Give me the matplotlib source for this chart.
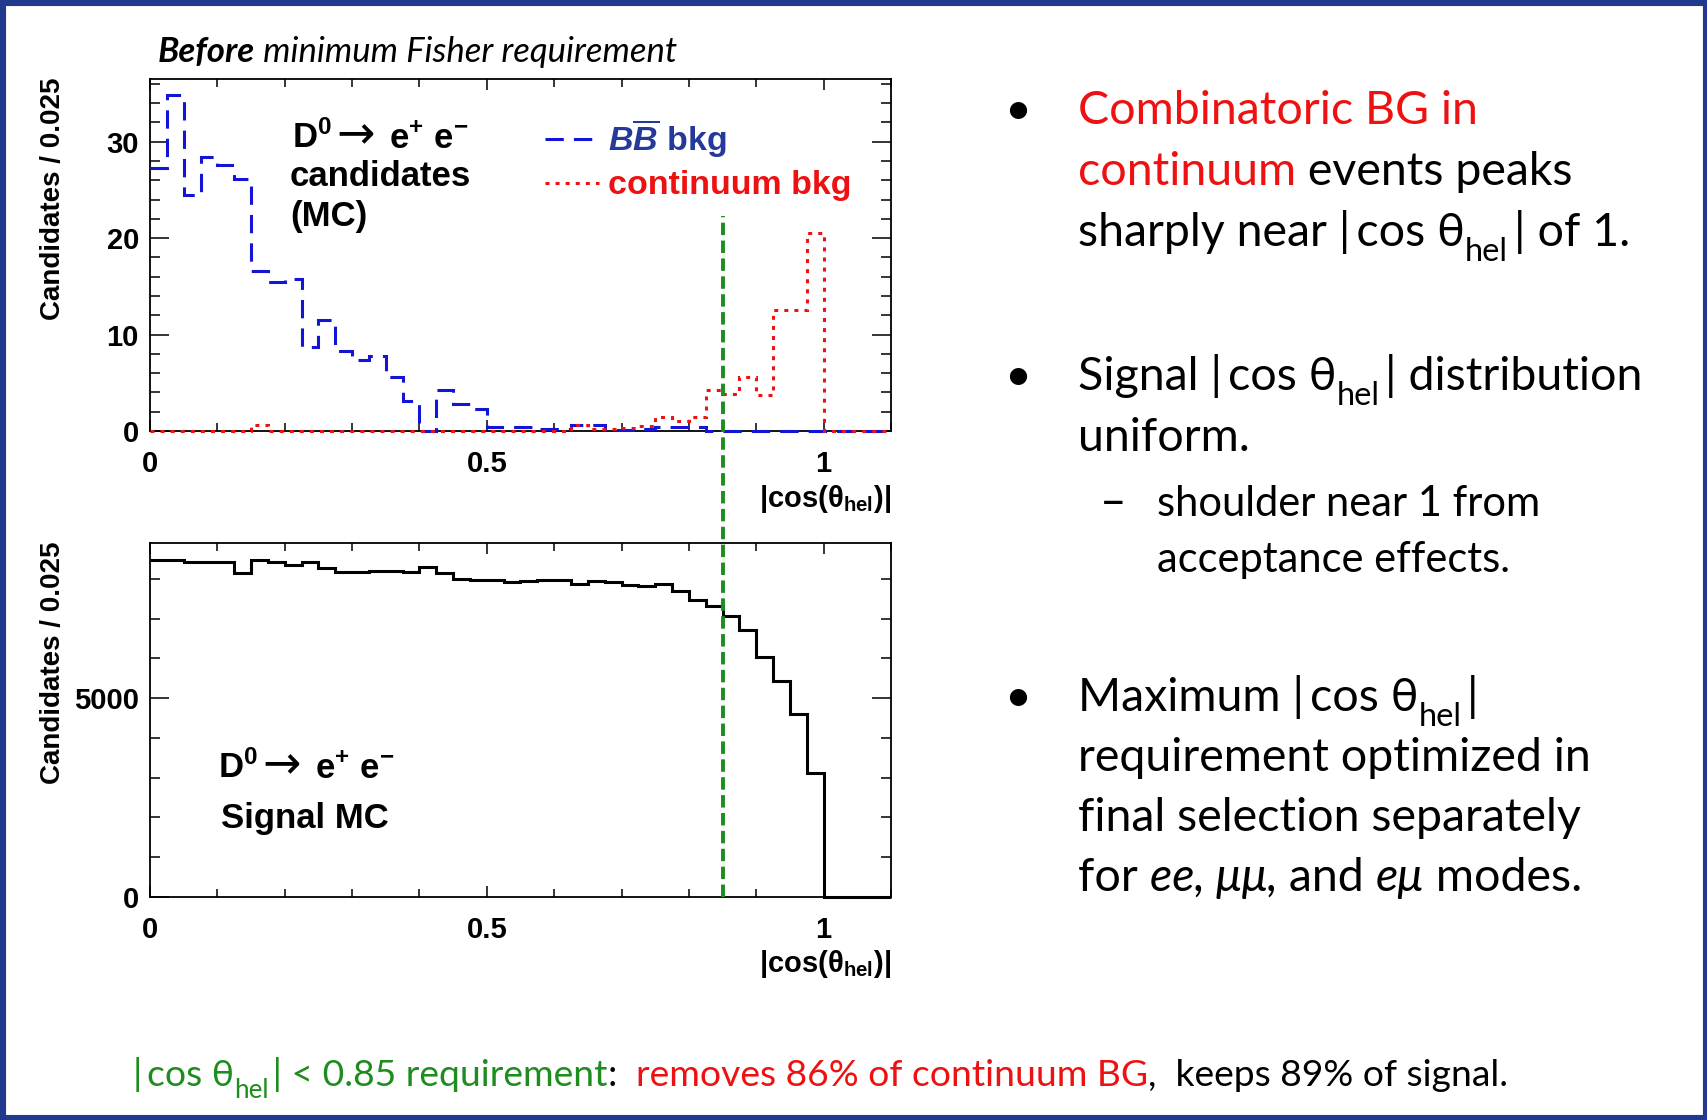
import matplotlib
matplotlib.use("Agg")
import matplotlib.pyplot as plt
from matplotlib.lines import Line2D
from matplotlib.patches import Rectangle
from matplotlib.ticker import FixedLocator, MultipleLocator
import numpy as np

plt.rcParams['mathtext.fontset'] = 'custom'
plt.rcParams['mathtext.rm'] = 'Liberation Sans:bold'
plt.rcParams['mathtext.it'] = 'Liberation Sans:bold:italic'
plt.rcParams['mathtext.bf'] = 'Liberation Sans:bold'

# |cos(theta_hel)| binning, 0.025 per bin
bin_edges = np.linspace(0, 1.1, 45)

bb_bkg = [27.3, 34.8, 24.5, 28.4, 27.6, 26.1, 16.6, 15.5, 15.8, 8.7,
          11.5, 8.3, 7.4, 7.8, 5.6, 3.1, 0.0, 4.3, 2.8, 2.3,
          0.45, 0.45, 0.45, 0.2, 0.2, 0.6, 0.6, 0.1, 0.1, 0.2,
          0.4, 0.4, 0.4, 0, 0, 0, 0, 0, 0, 0, 0, 0, 0, 0]
cont_bkg = [0, 0, 0, 0, 0, 0, 0.6, 0, 0, 0,
            0, 0, 0, 0, 0, 0, 0, 0, 0, 0,
            0, 0, 0, 0, 0, 0.6, 0.2, 0.2, 0.3, 0.5,
            1.5, 1.0, 1.5, 4.3, 3.8, 5.6, 3.7, 12.5, 12.5, 20.5,
            0, 0, 0, 0]
signal_mc = [8485, 8485, 8418, 8418, 8418, 8150, 8468, 8427, 8342, 8418,
             8284, 8183, 8183, 8200, 8200, 8170, 8301, 8150, 8006, 7973,
             7965, 7930, 7955, 7980, 7980, 7880, 7938, 7920, 7854, 7812,
             7880, 7686, 7476, 7308, 7056, 6703, 6031, 5443, 4603, 3125,
             0, 0, 0, 0]
cut_value = 0.85
cut_top = 22.3

RED = '#EE1111'
GREEN = '#1E8C1E'
BLUE = '#1414D6'
NAVY = '#25399A'
K = 'black'
PLOT_FONT = ['Liberation Sans', 'DejaVu Sans']
BODY = ['Lato', 'DejaVu Sans']
DASH = (0, (6, 3.3))
DOT = (0, (1.3, 2.0))
TS = '\u2009'

W, H = 1708, 1120
fig = plt.figure(figsize=(W / 100, H / 100), dpi=100)
rend = fig.canvas.get_renderer()


def fx(x):
    return x / W


def fy(y):
    return 1 - y / H


def width_px(s, kw):
    t = fig.text(0, 0, '|' + s + '|', **kw)
    w1 = t.get_window_extent(rend).width
    t.set_text('||')
    w2 = t.get_window_extent(rend).width
    t.remove()
    return w1 - w2


def runs(x, y, parts, size):
    for s, color, mode in parts:
        kw = dict(family=BODY, color=color, fontsize=size)
        dy = 0
        if mode == 'sub':
            kw['fontsize'] = size * 0.7
            dy = size * 0.33 * 100 / 72
        if mode in ('i', 'bi'):
            kw['style'] = 'italic'
        if mode == 'bi':
            kw['weight'] = 'bold'
        fig.text(fx(x), fy(y + dy), s, va='baseline', ha='left', **kw)
        x += width_px(s, kw)


def decay_label(x, y):
    bold = dict(family=PLOT_FONT, weight='bold', fontsize=25, va='baseline')
    fig.text(fx(x), fy(y), r'D$^{0}$', **bold)
    fig.text(fx(x + 44), fy(y), '→', family='DejaVu Sans', fontsize=33,
             va='baseline')
    fig.text(fx(x + 97), fy(y), r'e$^{+}$ e$^{-}$', **bold)


# ---- histograms
ax1 = fig.add_axes([fx(150), fy(431), 741 / W, 352 / H])
ax2 = fig.add_axes([fx(150), fy(896.7), 741 / W, 353.7 / H])

ax1.stairs(bb_bkg, bin_edges, baseline=None, color=BLUE, lw=2.2,
           linestyle=DASH, zorder=3, clip_on=False)
ax1.stairs(cont_bkg, bin_edges, baseline=None, color=RED, lw=2.2,
           linestyle=DOT, zorder=3.1, clip_on=False)
ax2.stairs(signal_mc, bin_edges, baseline=None, color=K, lw=2.2, zorder=3,
           clip_on=False)

ax1.set_ylim(0, 36.5)
ax2.set_ylim(0, 8906)
ax1.yaxis.set_major_locator(MultipleLocator(10))
ax1.yaxis.set_minor_locator(MultipleLocator(2))
ax2.yaxis.set_major_locator(MultipleLocator(5000))
ax2.yaxis.set_minor_locator(MultipleLocator(1000))

for ax in (ax1, ax2):
    ax.set_xlim(0, 1.1)
    ax.xaxis.set_major_locator(FixedLocator([0, 0.5, 1]))
    ax.xaxis.set_minor_locator(MultipleLocator(0.1))
    ax.set_xticklabels(['0', '0.5', '1'])
    ax.tick_params(which='both', direction='in', top=True, right=True, width=1.1)
    ax.tick_params(axis='y', which='major', length=14, pad=8)
    ax.tick_params(axis='y', which='minor', length=7)
    ax.tick_params(axis='x', which='major', length=8, pad=14)
    ax.tick_params(axis='x', which='minor', length=6)
    for lab in ax.get_xticklabels() + ax.get_yticklabels():
        lab.set_fontfamily(PLOT_FONT)
        lab.set_fontweight('bold')
        lab.set_fontsize(21)
    for sp in ax.spines.values():
        sp.set_linewidth(1.3)

# y labels, ROOT style, flush with the top of the frame
fig.text(fx(53), fy(77), 'Candidates / 0.025', rotation=90, ha='center', va='top',
         family=PLOT_FONT, weight='bold', fontsize=20)
fig.text(fx(53), fy(541), 'Candidates / 0.025', rotation=90, ha='center', va='top',
         family=PLOT_FONT, weight='bold', fontsize=20)
fig.text(fx(891), fy(483), r'$\mathbf{|cos(\theta_{hel})|}$', ha='right', va='top',
         fontsize=21)
fig.text(fx(891), fy(948), r'$\mathbf{|cos(\theta_{hel})|}$', ha='right', va='top',
         fontsize=21)

# annotations in the plots
decay_label(292, 148)
fig.text(fx(290), fy(186), 'candidates', family=PLOT_FONT, weight='bold',
         fontsize=25, va='baseline')
fig.text(fx(290), fy(226), '(MC)', family=PLOT_FONT, weight='bold', fontsize=25,
         va='baseline')
decay_label(218, 778)
fig.text(fx(221), fy(828), 'Signal MC', family=PLOT_FONT, weight='bold',
         fontsize=25, va='baseline')

# legend
fig.add_artist(Line2D([fx(545), fx(599)], [fy(139)] * 2, color=BLUE, lw=2.2,
                      linestyle=DASH))
fig.add_artist(Line2D([fx(545), fx(599)], [fy(183)] * 2, color=RED, lw=2.2,
                      linestyle=DOT))
fig.text(fx(608), fy(151), r'$\mathit{B}\overline{\mathit{B}}$ bkg', color=NAVY,
         family=PLOT_FONT, weight='bold', fontsize=24.5, va='baseline')
fig.text(fx(608), fy(194), 'continuum bkg', color=RED, family=PLOT_FONT,
         weight='bold', fontsize=24.5, va='baseline')

# cut line running through both panels
inv = fig.transFigure.inverted()
x_cut, y_a = inv.transform(ax1.transData.transform((cut_value, cut_top)))
_, y_b = inv.transform(ax2.transData.transform((cut_value, 0)))
fig.add_artist(Line2D([x_cut, x_cut], [y_b, y_a], color=GREEN, lw=2.8,
                      linestyle=(0, (3.2, 1.4)), zorder=4))

# ---- text
runs(158, 62, [('Before', K, 'bi'), (' minimum Fisher requirement', K, 'i')], 25)

main = 33.5
for yb in (124, 390, 711):
    fig.text(fx(1004), fy(yb), '•', family=BODY, fontsize=main, va='baseline')
runs(1078, 124, [('Combinatoric BG in', RED, 'n')], main)
runs(1078, 185, [('continuum', RED, 'n'), (' events peaks', K, 'n')], main)
runs(1078, 246, [('sharply near |' + TS + 'cos θ', K, 'n'), ('hel', K, 'sub'),
                 (TS + '| of 1.', K, 'n')], main)
runs(1078, 390, [('Signal |' + TS + 'cos θ', K, 'n'), ('hel', K, 'sub'),
                 (TS + '| distribution', K, 'n')], main)
runs(1078, 451, [('uniform.', K, 'n')], main)
fig.text(fx(1100), fy(516), '–', family=BODY, fontsize=33, va='baseline')
runs(1157, 516, [('shoulder near 1 from', K, 'n')], 30)
runs(1157, 572, [('acceptance effects.', K, 'n')], 30)
runs(1078, 711, [('Maximum |' + TS + 'cos θ', K, 'n'), ('hel', K, 'sub'),
                 (TS + '|', K, 'n')], main)
runs(1078, 771, [('requirement optimized in', K, 'n')], main)
runs(1078, 831, [('final selection separately', K, 'n')], main)
runs(1078, 891, [('for ', K, 'n'), ('ee, μμ,', K, 'i'), (' and ', K, 'n'),
                 ('eμ', K, 'i'), (' modes.', K, 'n')], main)

runs(133, 1086, [('|' + TS + 'cos θ', GREEN, 'n'), ('hel', GREEN, 'sub'),
                 (TS + '| < 0.85 requirement', GREEN, 'n'), (':  ', K, 'n'),
                 ('removes 86% of continuum BG', RED, 'n'),
                 (',  keeps 89% of signal.', K, 'n')], 26.8)

# slide frame
fig.add_artist(Rectangle((0, 0), 1, 1, transform=fig.transFigure, fill=False,
                         edgecolor='#223A8E', lw=8))

fig.savefig('out.png', dpi=100)
